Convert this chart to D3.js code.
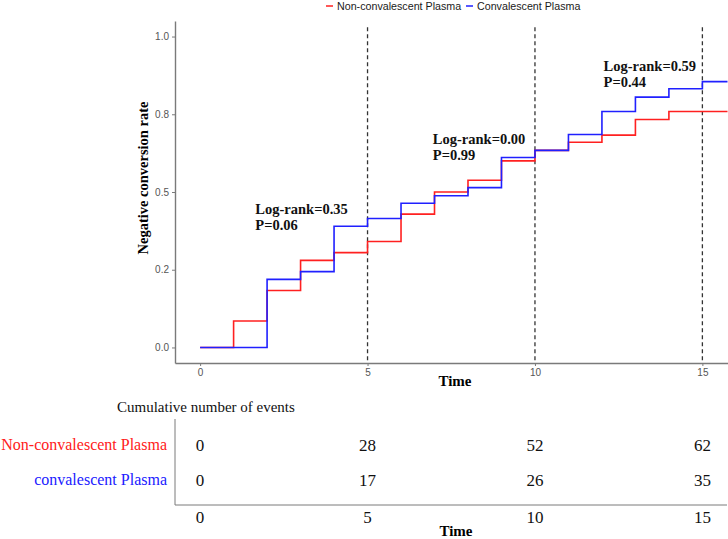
<!DOCTYPE html>
<html><head><meta charset="utf-8">
<script src="https://cdn.jsdelivr.net/npm/d3@7"></script>
<style>body{margin:0;background:#fff}svg{display:block}</style>
</head><body>
<svg id="c" width="728" height="539"></svg>
<script>
const groups = ["Non-convalescent Plasma", "Convalescent Plasma"];
const tableGroups = ["Non-convalescent Plasma", "convalescent Plasma"];
const colors = ["#ff2020", "#2020ff"];
const times = [0,1,2,3,4,5,6,7,8,9,10,11,12,13,14,15,15.75];
const nonCP = [0,0.085,0.183,0.28,0.305,0.341,0.429,0.50,0.538,0.60,0.634,0.66,0.683,0.733,0.759,0.759,0.759];
const cp    = [0,0,0.219,0.244,0.39,0.415,0.464,0.488,0.514,0.611,0.634,0.685,0.759,0.805,0.832,0.855,0.855];
const xTicks = [0,5,10,15];
const yTicks = [0,0.25,0.5,0.75,1];
const yTickLabels = ["0.0","0.2","0.5","0.8","1.0"];
const cutTimes = [5,10,15];
const annot = [
  {t:1.65, v:0.43, l1:"Log-rank=0.35", l2:"P=0.06"},
  {t:6.95, v:0.655, l1:"Log-rank=0.00", l2:"P=0.99"},
  {t:12.05, v:0.888, l1:"Log-rank=0.59", l2:"P=0.44"}
];
const eventsNon = [0,28,52,62];
const eventsCP  = [0,17,26,35];

const svg = d3.select("#c");
const x = d3.scaleLinear().domain([-0.75,15.75]).range([175,727.5]);
const y = d3.scaleLinear().domain([-0.05,1.05]).range([363,21]);
const serif = "'Liberation Serif','Times New Roman',serif";
const sans = "'Liberation Sans',Arial,sans-serif";

// legend
const leg = svg.append("g").attr("font-family", sans).attr("font-size", 10.7).attr("fill","#1a1a1a");
const legX = [326, 466];
groups.forEach((g,i)=>{
  leg.append("line").attr("x1",legX[i]).attr("x2",legX[i]+7).attr("y1",6).attr("y2",6)
    .attr("stroke",colors[i]).attr("stroke-width",1.5);
  leg.append("text").attr("x",legX[i]+11).attr("y",10).text(g);
});

// axes
const yAxis = svg.append("g").attr("transform","translate(175,0)")
  .call(d3.axisLeft(y).tickValues(yTicks).tickFormat((d,i)=>yTickLabels[i]).tickSize(3).tickSizeOuter(0));
const xAxis = svg.append("g").attr("transform","translate(0,363)")
  .call(d3.axisBottom(x).tickValues(xTicks).tickSize(3).tickSizeOuter(0));
[yAxis,xAxis].forEach(a=>{
  a.select(".domain").attr("stroke","#7a7a7a").attr("stroke-width",1.4);
  a.selectAll(".tick line").attr("stroke","#7a7a7a");
  a.selectAll(".tick text").attr("fill","#555").attr("font-family",sans).attr("font-size",10);
});

// dashed cut lines
svg.append("g").selectAll("line").data(cutTimes).join("line")
  .attr("x1",d=>x(d)).attr("x2",d=>x(d)).attr("y1",y(1.03)).attr("y2",y(-0.05))
  .attr("stroke","#333").attr("stroke-width",1.3).attr("stroke-dasharray","4,3");

// step lines
const line = d3.line().curve(d3.curveStepAfter).x((d,i)=>x(times[i])).y(d=>y(d));
[nonCP, cp].forEach((s,i)=>{
  svg.append("path").attr("d",line(s)).attr("fill","none").attr("stroke",colors[i]).attr("stroke-width",1.6);
});

// annotations
const an = svg.append("g").attr("font-family",serif).attr("font-weight","bold").attr("font-size",14.5).attr("fill","#111");
annot.forEach(a=>{
  an.append("text").attr("x",x(a.t)).attr("y",y(a.v)).text(a.l1);
  an.append("text").attr("x",x(a.t)).attr("y",y(a.v)+16).text(a.l2);
});

// axis titles
svg.append("text").attr("transform","translate(148,178) rotate(-90)").attr("text-anchor","middle")
  .attr("font-family",serif).attr("font-weight","bold").attr("font-size",14.5).text("Negative conversion rate");
svg.append("text").attr("x",455).attr("y",386).attr("text-anchor","middle")
  .attr("font-family",serif).attr("font-weight","bold").attr("font-size",15).text("Time");

// table
svg.append("text").attr("x",117).attr("y",412).attr("font-family",serif).attr("font-size",15).attr("fill","#111")
  .text("Cumulative number of events");
const rowY = d3.scalePoint().domain(tableGroups).range([445,480]);
svg.append("line").attr("x1",175).attr("x2",175).attr("y1",419).attr("y2",505).attr("stroke","#7a7a7a").attr("stroke-width",1);
svg.append("line").attr("x1",175).attr("x2",727).attr("y1",505).attr("y2",505).attr("stroke","#7a7a7a").attr("stroke-width",1);
tableGroups.forEach((g,i)=>{
  svg.append("text").attr("x",167).attr("y",rowY(g)+5).attr("text-anchor","end")
    .attr("font-family",serif).attr("font-size",16).attr("fill",colors[i]).text(g);
});
[eventsNon, eventsCP].forEach((arr,i)=>{
  svg.append("g").selectAll("text").data(arr).join("text")
    .attr("x",(d,j)=>x(xTicks[j])).attr("y",rowY(tableGroups[i])+6).attr("text-anchor","middle")
    .attr("font-family",serif).attr("font-size",17).attr("fill","#111").text(d=>d);
});
svg.append("g").selectAll("text").data(xTicks).join("text")
  .attr("x",d=>x(d)).attr("y",523).attr("text-anchor","middle")
  .attr("font-family",serif).attr("font-size",17).attr("fill","#111").text(d=>d);
svg.append("text").attr("x",456).attr("y",536).attr("text-anchor","middle")
  .attr("font-family",serif).attr("font-weight","bold").attr("font-size",15).text("Time");
</script>
</body></html>
